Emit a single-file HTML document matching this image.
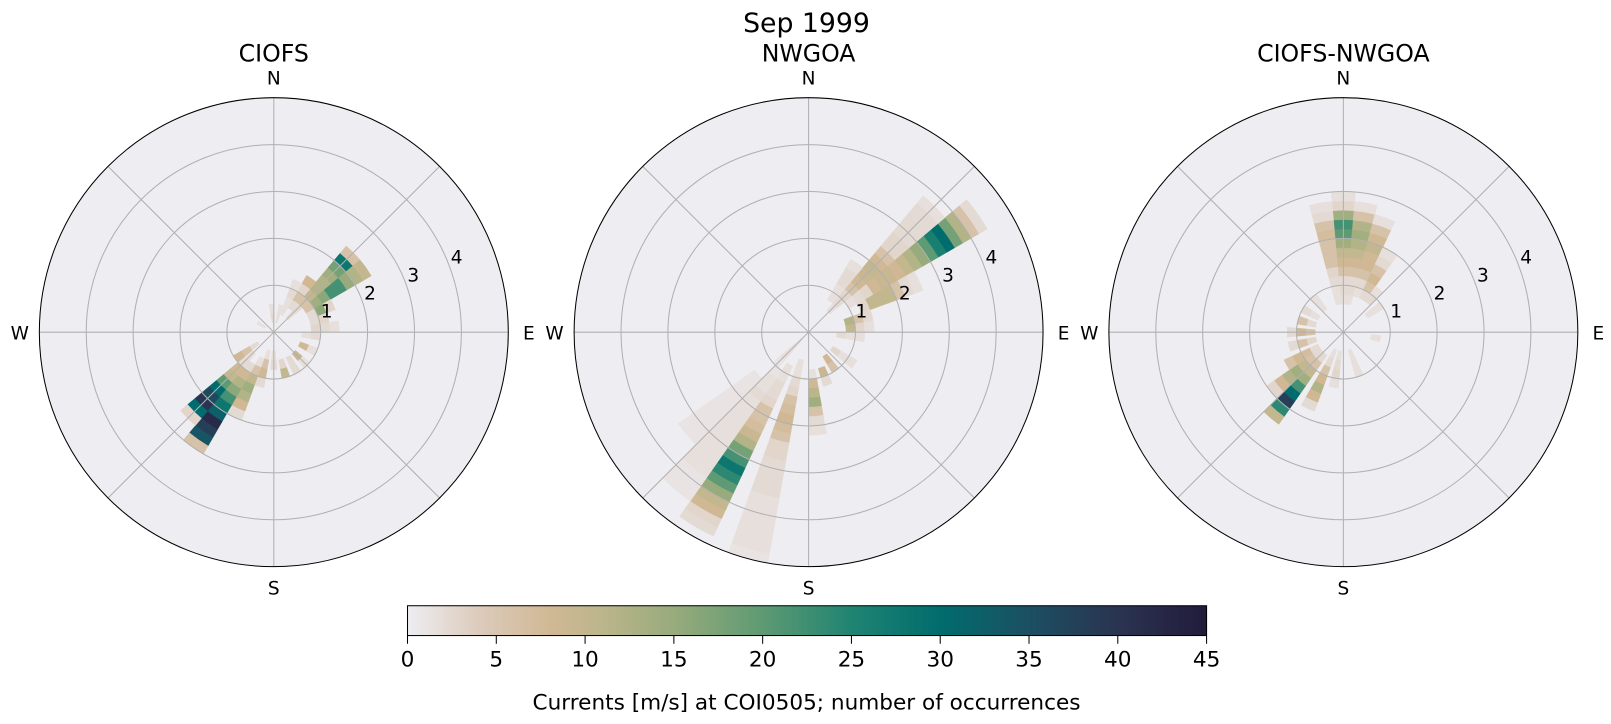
<!DOCTYPE html>
<html><head><meta charset="utf-8"><style>
html,body{margin:0;padding:0;background:#fff;}
svg{display:block;font-family:"DejaVu Sans","Liberation Sans",sans-serif;}
</style></head><body>
<svg id="s" width="1611" height="724" viewBox="0 0 1566 704" xmlns="http://www.w3.org/2000/svg">
<defs>
<linearGradient id="cb" x1="0" x2="1" y1="0" y2="0">
<stop offset="0" stop-color="#eeedf2"/>
<stop offset="0.09" stop-color="#dccbbb"/>
<stop offset="0.18" stop-color="#d0b894"/>
<stop offset="0.24" stop-color="#bdb68c"/>
<stop offset="0.333" stop-color="#98ab7c"/>
<stop offset="0.444" stop-color="#5e9a73"/>
<stop offset="0.556" stop-color="#1f8472"/>
<stop offset="0.667" stop-color="#016c6d"/>
<stop offset="0.778" stop-color="#1c4f62"/>
<stop offset="0.889" stop-color="#2a3450"/>
<stop offset="1" stop-color="#221b3b"/>
</linearGradient>
</defs>
<g id="plots"></g>
<text x="784" y="31" font-size="26" text-anchor="middle">Sep 1999</text>
<rect x="396" y="589" width="777" height="29" fill="url(#cb)" stroke="#000" stroke-width="1"/>
<g id="cbt"></g>
<text x="784" y="690" font-size="21" text-anchor="middle">Currents [m/s] at COI0505; number of occurrences</text>
</svg>
<script>
var NS="http://www.w3.org/2000/svg";
function el(t,a,p,txt){var e=document.createElementNS(NS,t);for(var k in a)e.setAttribute(k,a[k]);if(txt!==undefined)e.textContent=txt;p.appendChild(e);return e;}
var stops=[[0,[238,237,242]],[4,[220,203,187]],[8,[208,184,148]],[10.8,[189,182,140]],[15,[152,171,124]],[20,[94,154,115]],[25,[31,132,114]],[30,[1,108,109]],[35,[28,79,98]],[40,[42,52,80]],[45,[34,27,59]]];
function col(v){if(v>=45)v=45;for(var i=1;i<stops.length;i++){if(v<=stops[i][0]){var a=stops[i-1],b=stops[i],t=(v-a[0])/(b[0]-a[0]);return "rgb("+[0,1,2].map(function(j){return Math.round(a[1][j]+t*(b[1][j]-a[1][j]))}).join(",")+")";}}}
var U=45.6,R=228;
function pt(cx,cy,r,b){var a=b*Math.PI/180;return [cx+r*Math.sin(a),cy-r*Math.cos(a)];}
function sector(g,cx,cy,b0,b1,r0,r1,c){var p1=pt(cx,cy,r0,b0),p2=pt(cx,cy,r1,b0),p3=pt(cx,cy,r1,b1),p4=pt(cx,cy,r0,b1);
var d="M"+p1+"L"+p2+"A"+r1+","+r1+" 0 0 1 "+p3+"L"+p4+"A"+r0+","+r0+" 0 0 0 "+p1+"Z";el("path",{d:d,fill:c,stroke:c,"stroke-width":0.4},g);}
var data=[
[[45,0.4,[3,4,6,10,12,12,14,18,28,6]],[55,0.8,[6,14,16,22,22,15,12,10]],[35,0.6,[4,6,5,8]],[65,0.8,[4,16,5]],[75,0.8,[4,5]],[85,0.8,[5,4,3]],[95,0.6,[3,4]],[115,0.6,[8,3]],[135,0.6,[9,3]],[150,0.6,[4,4]],[165,0.6,[5,10]],[180,0.4,[3,4]],[195,0.4,[3,6,8,4]],[205,0.6,[3,6,10,14,12,8,4]],[215,0.8,[4,8,12,16,22,28,32,42,38,34,6]],[225,0.6,[3,4,8,10,20,30,36,40,30,5]],[235,0.4,[4,6,8]],[25,0.4,[3,3,4,3]],[15,0.2,[3,3]],[355,0.2,[4,3]],[300,0.2,[3]]],
[[55,1.0,[3,4,5,8,9,9,8,10,12,15,20,26,30,18,12,6,4]],[45,0.6,[3,4,5,6,8,9,10,8,6,5,5,4,4,4,4,3]],[65,1.2,[5,10,10,10,6,4,3]],[35,0.8,[3,3,4,4,3]],[75,0.8,[12,6,4]],[85,0.8,[10,5,3]],[95,0.6,[4,3,3]],[125,0.6,[5,3,3]],[145,0.6,[8,6]],[160,0.8,[9,4]],[175,0.8,[3,8,11,14,6,4,3]],[195,0.6,[3,3,4,5,6,7,8,7,6,5,5,4,4,4,4,3,3,3,3,3,3,2]],[210,0.8,[3,3,4,4,5,6,6,7,9,12,18,22,28,24,20,15,10,8,5,4]],[220,1.0,[2,3,3,4,3,3,3,3,3,3,3,3,3,3,2,2,2]],[230,1.4,[2,2,2,2,2,2,2,2,2,2]],[225,0.2,[3,3,3,2]]],
[[0,0.6,[3,4,4,6,8,10,14,20,22,14,5,3]],[350,0.6,[3,3,4,5,6,6,6,7,6,4,3]],[10,0.6,[3,4,4,6,8,10,12,14,12,6,3]],[20,0.8,[3,4,6,8,8,10,8,6,3]],[30,0.8,[4,6,8,6,4,3]],[40,0.8,[4,3]],[55,0.6,[3,3]],[100,0.6,[3]],[160,0.4,[3,3,3]],[190,0.4,[3,4,5,3]],[205,0.4,[3,4,6,8,12,8,4]],[220,0.6,[4,6,10,14,22,30,38,24,10]],[230,0.6,[4,6,10,14,12,8,5]],[240,0.6,[4,7,8,6]],[255,0.6,[5,6,4]],[270,0.6,[6,8,4]],[285,0.6,[4,6]],[300,0.6,[3,4]],[320,0.6,[3,3]]]
];
var titles=["CIOFS","NWGOA","CIOFS-NWGOA"],cxs=[266,786,1306],cy=323;
var P=document.getElementById("plots");
for(var k=0;k<3;k++){var cx=cxs[k],g=el("g",{},P);
el("circle",{cx:cx,cy:cy,r:R,fill:"#eeedf2"},g);
data[k].forEach(function(d){var v=d[2];for(var i=0;i<v.length;i++){var x=v[i];if(x<6)x=x*0.55;if(x>0)sector(g,cx,cy,d[0]-5,d[0]+5,(d[1]+0.2*i)*U,(d[1]+0.2*(i+1))*U,col(x));}});
for(var j=1;j<5;j++)el("circle",{cx:cx,cy:cy,r:j*U,fill:"none",stroke:"#b0b0b0","stroke-width":1},g);
for(var a=0;a<360;a+=45){var p=pt(cx,cy,R,a);el("line",{x1:cx,y1:cy,x2:p[0],y2:p[1],stroke:"#b0b0b0","stroke-width":1},g);}
el("circle",{cx:cx,cy:cy,r:R,fill:"none",stroke:"#000","stroke-width":1},g);
el("text",{x:cx,y:60,"font-size":23,"text-anchor":"middle"},g,titles[k]);
el("text",{x:cx,y:82,"font-size":18,"text-anchor":"middle"},g,"N");
el("text",{x:cx,y:578,"font-size":18,"text-anchor":"middle"},g,"S");
el("text",{x:cx-247,y:330,"font-size":18,"text-anchor":"middle"},g,"W");
el("text",{x:cx+248,y:330,"font-size":18,"text-anchor":"middle"},g,"E");
for(var j=1;j<5;j++){var r=j*U+10,an=22.5*Math.PI/180;el("text",{x:cx+r*Math.cos(an),y:cy-r*Math.sin(an)+7,"font-size":18,"text-anchor":"middle"},g,String(j));}
}
var T=document.getElementById("cbt");
for(var i=0;i<=9;i++){var x=396+i*777/9;el("line",{x1:x,y1:618,x2:x,y2:626,stroke:"#000","stroke-width":1},T);el("text",{x:x,y:648,"font-size":21,"text-anchor":"middle"},T,String(i*5));}
</script>
</body></html>
